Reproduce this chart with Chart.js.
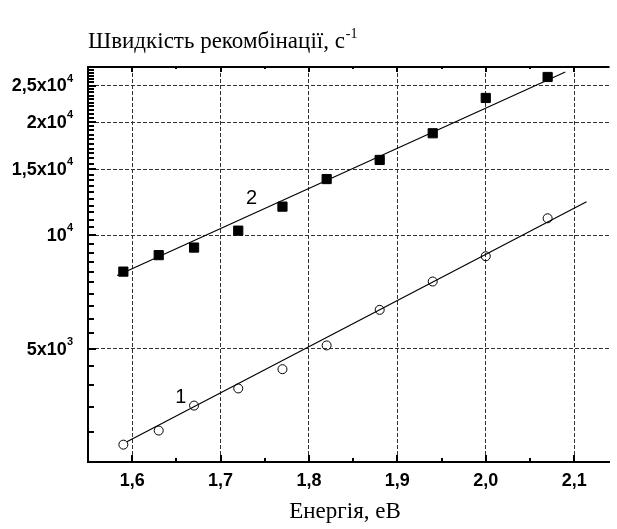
<!DOCTYPE html>
<html>
<head>
<meta charset="utf-8">
<script src="https://cdn.jsdelivr.net/npm/chart.js@4.4.1/dist/chart.umd.min.js"></script>
<style>
  html, body { margin: 0; padding: 0; background: #fff; }
  #caja { width: 617px; height: 529px; }
</style>
</head>
<body>
<div id="caja"><canvas id="grafica"></canvas></div>
<script>
// energy values (eV) and recombination rates (s^-1)
const energia = [1.59, 1.63, 1.67, 1.72, 1.77, 1.82, 1.88, 1.94, 2.00, 2.07];
const kryva1 = [2780, 3030, 3530, 3920, 4410, 5100, 6340, 7540, 8800, 11100];
const kryva2 = [8010, 8860, 9280, 10290, 11920, 14110, 15860, 18670, 23170, 26340];

// fitted straight lines (ends)
const fitX1 = [1.594, 2.114];
const fitY1 = [2830, 12280];
const fitX2 = [1.583, 2.09];
const fitY2 = [7820, 27160];

const xLabels = ['1,6', '1,7', '1,8', '1,9', '2,0', '2,1'];
const yTicks = [5000, 10000, 15000, 20000, 25000];
const yMant = ['5x10', '10', '1,5x10', '2x10', '2,5x10'];
const yExp = ['3', '4', '4', '4', '4'];

const curveNames = ['1', '2'];
const nameX = [1.655, 1.735];
const nameY = [3710, 12550];

document.addEventListener('DOMContentLoaded', function(){
    const $grafica = document.getElementById('grafica').getContext('2d');

    const puntos = (xs, ys) => xs.map((x, i) => ({x: x, y: ys[i]}));
    const esMayorX = v => Math.abs(v * 10 - Math.round(v * 10)) < 1e-6;
    const esMayorY = v => yTicks.includes(v);

    const sansB = '"Liberation Sans", Arial, sans-serif';
    const serif = '"Liberation Serif", "Times New Roman", serif';

    const decoracion = {
        id: 'decoracion',
        afterDraw(chart) {
            const ctx = chart.ctx;
            const a = chart.chartArea;
            const sx = chart.scales.x, sy = chart.scales.y;
            ctx.save();
            ctx.setLineDash([]);
            // top border
            ctx.strokeStyle = '#000';
            ctx.lineWidth = 2;
            ctx.beginPath();
            ctx.moveTo(a.left - 1, a.top);
            ctx.lineTo(a.right, a.top);
            ctx.stroke();
            // inward ticks
            ctx.lineWidth = 2;
            sx.ticks.forEach(t => {
                const px = Math.round(sx.getPixelForValue(t.value));
                const len = esMayorX(t.value) ? 7 : 4;
                ctx.beginPath();
                ctx.moveTo(px, a.bottom); ctx.lineTo(px, a.bottom - len);
                ctx.moveTo(px, a.top); ctx.lineTo(px, a.top + len - 2);
                ctx.stroke();
            });
            sy.ticks.forEach(t => {
                const py = Math.round(sy.getPixelForValue(t.value));
                const len = esMayorY(t.value) ? 8 : 6;
                ctx.beginPath();
                ctx.moveTo(a.left, py); ctx.lineTo(a.left + len, py);
                ctx.stroke();
            });
            // y labels with exponents
            ctx.fillStyle = '#000';
            ctx.textBaseline = 'middle';
            yTicks.forEach((v, i) => {
                const py = sy.getPixelForValue(v);
                ctx.font = 'bold 11px ' + sansB;
                const we = ctx.measureText(yExp[i]).width;
                const derecha = a.left - 15;
                ctx.textAlign = 'right';
                ctx.fillText(yExp[i], derecha, py - 7);
                ctx.font = 'bold 18px ' + sansB;
                ctx.fillText(yMant[i], derecha - we, py + 1);
            });
            // curve numbers
            ctx.font = '20px ' + sansB;
            ctx.textAlign = 'center';
            curveNames.forEach((n, i) => {
                ctx.fillText(n, sx.getPixelForValue(nameX[i]), sy.getPixelForValue(nameY[i]));
            });
            // titles
            ctx.font = '23px ' + serif;
            ctx.textAlign = 'left';
            ctx.textBaseline = 'alphabetic';
            const titulo = 'Швидкість рекомбінації, с';
            ctx.fillText(titulo, 88, 48);
            const wt = ctx.measureText(titulo).width;
            ctx.font = '14px ' + serif;
            ctx.fillText('-1', 88 + wt + 1, 38);
            ctx.font = '23px ' + serif;
            ctx.textAlign = 'center';
            ctx.fillText('Енергія, еВ', 345, 518);
            ctx.restore();
        }
    };

    new Chart($grafica, {
        type: 'scatter',
        data: {
            datasets: [
                {
                    label: '1',
                    data: puntos(energia, kryva1),
                    pointStyle: 'circle',
                    pointRadius: 4.5,
                    backgroundColor: 'rgba(0,0,0,0)',
                    borderColor: '#000',
                    borderWidth: 1
                },
                {
                    label: '2',
                    data: puntos(energia, kryva2),
                    pointStyle: 'rect',
                    pointRadius: 6.5,
                    backgroundColor: '#000',
                    borderColor: '#000',
                    borderWidth: 1
                },
                {
                    label: 'fit1',
                    data: puntos(fitX1, fitY1),
                    showLine: true,
                    pointRadius: 0,
                    borderColor: '#000',
                    borderWidth: 1.2
                },
                {
                    label: 'fit2',
                    data: puntos(fitX2, fitY2),
                    showLine: true,
                    pointRadius: 0,
                    borderColor: '#000',
                    borderWidth: 1.2
                }
            ]
        },
        options: {
            responsive: true,
            maintainAspectRatio: false,
            animation: false,
            layout: { padding: { top: 67, right: 0, left: 0, bottom: 0 } },
            plugins: {
                legend: { display: false },
                tooltip: { enabled: false }
            },
            scales: {
                x: {
                    type: 'linear',
                    min: 1.55,
                    max: 2.14,
                    afterBuildTicks: function(scale) {
                        const t = [];
                        for (let k = 31; k <= 42; k++) t.push({value: k / 20});
                        scale.ticks = t;
                    },
                    afterFit: function(scale) { scale.height = 67; },
                    ticks: {
                        autoSkip: false,
                        maxRotation: 0,
                        padding: 8,
                        color: '#000',
                        font: { family: sansB, size: 18, weight: 'bold' },
                        callback: function(v) {
                            if (!esMayorX(v)) return '';
                            return xLabels[Math.round(v * 10) - 16];
                        }
                    },
                    grid: {
                        drawTicks: false,
                        lineWidth: 1,
                        color: c => (c.tick && esMayorX(c.tick.value)) ? '#333' : 'rgba(0,0,0,0)'
                    },
                    border: { display: true, color: '#000', width: 2, dash: [4, 2] }
                },
                y: {
                    type: 'logarithmic',
                    min: 2500,
                    max: 28000,
                    afterBuildTicks: function(scale) {
                        const t = [];
                        for (let v = 2500; v <= 28000; v += 500) t.push({value: v});
                        scale.ticks = t;
                    },
                    afterFit: function(scale) { scale.width = 88; },
                    ticks: { display: false },
                    grid: {
                        drawTicks: false,
                        lineWidth: 1,
                        color: c => (c.tick && esMayorY(c.tick.value)) ? '#333' : 'rgba(0,0,0,0)'
                    },
                    border: { display: true, color: '#000', width: 2, dash: [4, 2] }
                }
            }
        },
        plugins: [decoracion]
    });
});
</script>
</body>
</html>
